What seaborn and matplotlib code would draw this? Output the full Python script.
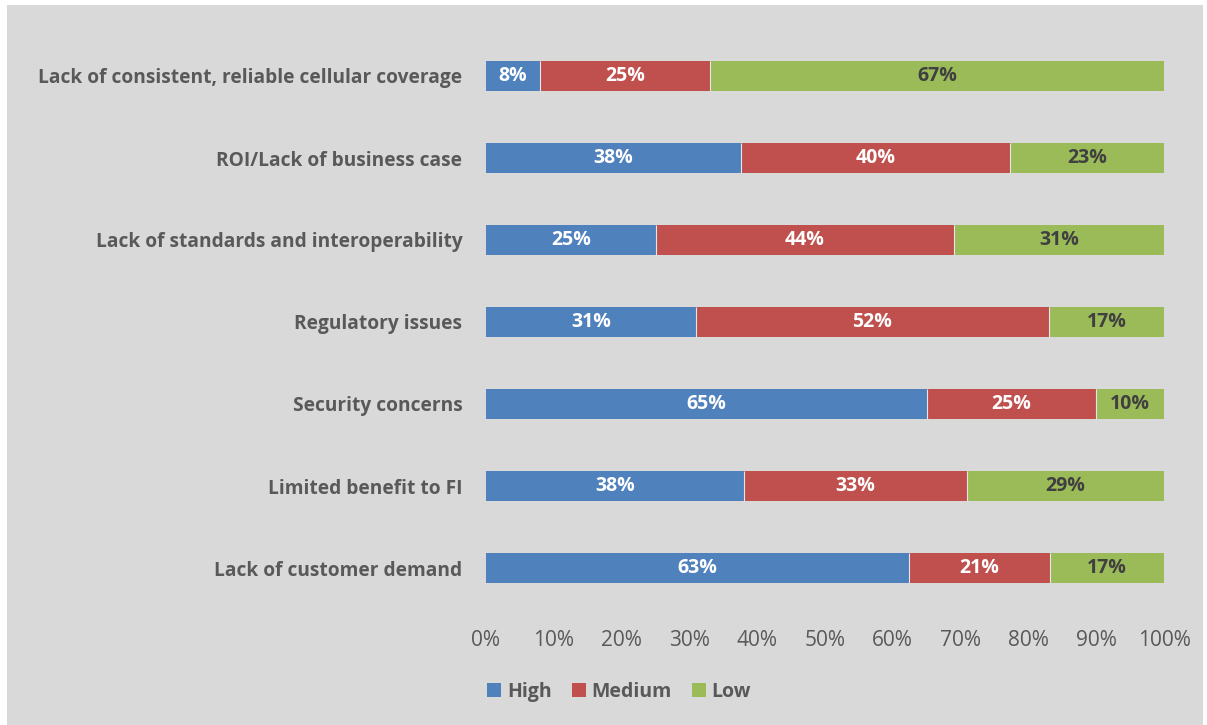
import matplotlib
matplotlib.use("Agg")
import matplotlib.pyplot as plt
import seaborn as sns
import numpy as np
import pandas as pd
from matplotlib.patches import Rectangle, Patch
from matplotlib.ticker import FuncFormatter

categories = [
    "Lack of consistent, reliable cellular coverage",
    "ROI/Lack of business case",
    "Lack of standards and interoperability",
    "Regulatory issues",
    "Security concerns",
    "Limited benefit to FI",
    "Lack of customer demand",
]
high = [8, 38, 25, 31, 65, 38, 63]
medium = [25, 40, 44, 52, 25, 33, 21]
low = [67, 23, 31, 17, 10, 29, 17]
series_names = ["High", "Medium", "Low"]
colors = {"High": "#4f81bd", "Medium": "#c0504d", "Low": "#9bbb59"}
label_colors = {"High": "white", "Medium": "white", "Low": "#404040"}

sns.set_theme(style="white")
plt.rcParams["font.family"] = ["Open Sans", "DejaVu Sans"]

df = pd.DataFrame({"category": categories, "High": high, "Medium": medium, "Low": low})
total = df[series_names].sum(axis=1)
shares = df[series_names].div(total, axis=0) * 100
cum = shares.cumsum(axis=1)

fig = plt.figure(figsize=(12.07, 7.25), dpi=100, facecolor="white")
fig.patches.append(Rectangle((7 / 1207, 0), 1196 / 1207, 720 / 725,
                             transform=fig.transFigure, facecolor="#d9d9d9",
                             edgecolor="none", zorder=-10))
ax = fig.add_axes([486 / 1207, 1 - 609 / 725, 678 / 1207, 574 / 725])
ax.set_facecolor("none")

# stacked bars drawn as overlapping cumulative totals, widest first
for name in reversed(series_names):
    sns.barplot(x=cum[name], y=df["category"], orient="h", color=colors[name],
                saturation=1, width=0.37, ax=ax, order=categories,
                linewidth=0)

# thin light seams between adjoining segments
for name in series_names[:-1]:
    for i in range(len(categories)):
        ax.plot([cum.loc[i, name]] * 2, [i - 0.185, i + 0.185],
                color="#e6e6e6", lw=0.8, solid_capstyle="butt")

for i, cat in enumerate(categories):
    left = 0
    for name in series_names:
        w = shares.loc[i, name]
        ax.text(left + w / 2, i, f"{df.loc[i, name]}%", ha="center", va="center",
                fontsize=14, fontweight="bold", color=label_colors[name])
        left += w

ax.set_xlim(0, 100)
ax.set_ylim(6.5, -0.5)
ax.set_xticks(np.arange(0, 101, 10))
ax.xaxis.set_major_formatter(FuncFormatter(lambda v, p: f"{v:.0f}%"))
ax.set_xlabel("")
ax.set_ylabel("")
for s in ax.spines.values():
    s.set_visible(False)
ax.tick_params(axis="x", length=0, pad=15, labelsize=15, labelcolor="#595959")
ax.tick_params(axis="y", length=0, pad=17, labelsize=13.8, labelcolor="#595959")
for lbl in ax.get_yticklabels():
    lbl.set_fontweight("bold")

handles = [Patch(facecolor=colors[n], edgecolor="none") for n in series_names]
leg = fig.legend(handles, series_names, loc="center", bbox_to_anchor=(0.513, 1 - 692 / 725),
                 ncol=3, frameon=False, handlelength=0.7, handleheight=0.7,
                 handletextpad=0.3, columnspacing=1.05,
                 prop={"weight": "bold", "size": 14})
for t in leg.get_texts():
    t.set_color("#595959")

fig.savefig("out.png", dpi=100, facecolor="white")
